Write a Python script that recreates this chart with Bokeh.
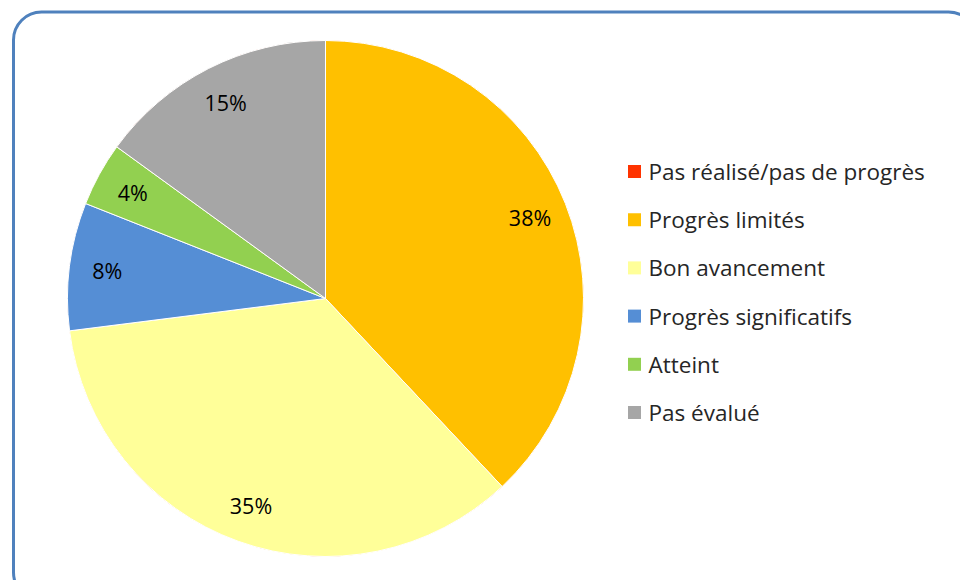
import math
from bokeh.plotting import figure
from bokeh.models import Range1d, BoxAnnotation, ColumnDataSource
from bokeh.core.properties import value
from bokeh.embed import file_html
from bokeh.resources import INLINE

# ---- data ----
categories = ["Pas réalisé/pas de progrès", "Progrès limités", "Bon avancement",
              "Progrès significatifs", "Atteint", "Pas évalué"]
shares = [0, 38, 35, 8, 4, 15]
colors = ["#FF3300", "#FFC000", "#FFFF99", "#558ED5", "#92D050", "#A6A6A6"]

W, H = 960, 580
FONT = "Open Sans"

p = figure(width=W, height=H, output_backend="svg", toolbar_location=None,
           x_range=Range1d(0, W), y_range=Range1d(0, H), min_border=0,
           outline_line_color=None, background_fill_color="white")
p.axis.visible = False
p.grid.visible = False

def fx(x):
    return x
def fy(y):
    return H - y

p.add_layout(BoxAnnotation(left=fx(13), right=fx(976), top=fy(11.5), bottom=fy(600),
                           fill_alpha=0, line_color="#4F81BD", line_alpha=1.0, line_width=3,
                           border_radius=28))

cx, cy, R = fx(325), fy(298), 258
total = sum(shares)
starts, ends, lx, ly, labels = [], [], [], [], []
acc = 0
for s in shares:
    a0 = math.pi / 2 - 2 * math.pi * acc / total
    a1 = math.pi / 2 - 2 * math.pi * (acc + s) / total
    starts.append(a0)
    ends.append(a1)
    mid = (a0 + a1) / 2
    lx.append(cx + 220 * math.cos(mid))
    ly.append(cy + 220 * math.sin(mid))
    labels.append(f"{s}%" if s > 0 else "")
    acc += s

src = ColumnDataSource(dict(start=starts, end=ends, color=colors, lx=lx, ly=ly, label=labels))
p.wedge(x=cx, y=cy, radius=R, start_angle="start", end_angle="end", direction="clock",
        fill_color="color", line_color="white", line_width=1, source=src)
p.text(x="lx", y="ly", text="label", source=src, text_align="center", text_baseline="middle",
       text_font=value(FONT), text_font_size="21.5px", text_color="#000000")

# legend
ly0 = fy(171)
leg = ColumnDataSource(dict(
    x=[fx(634)] * len(categories),
    y=[ly0 - i * 48.2 for i in range(len(categories))],
    tx=[fx(648)] * len(categories),
    color=colors, name=categories))
p.scatter(x="x", y="y", marker="square", size=13, fill_color="color", line_color=None, source=leg)
p.text(x="tx", y="y", text="name", source=leg, text_align="left", text_baseline="middle",
       text_font=value(FONT), text_font_size="22.5px", text_color="#262626")

open("out.html", "w").write(file_html(p, INLINE))
